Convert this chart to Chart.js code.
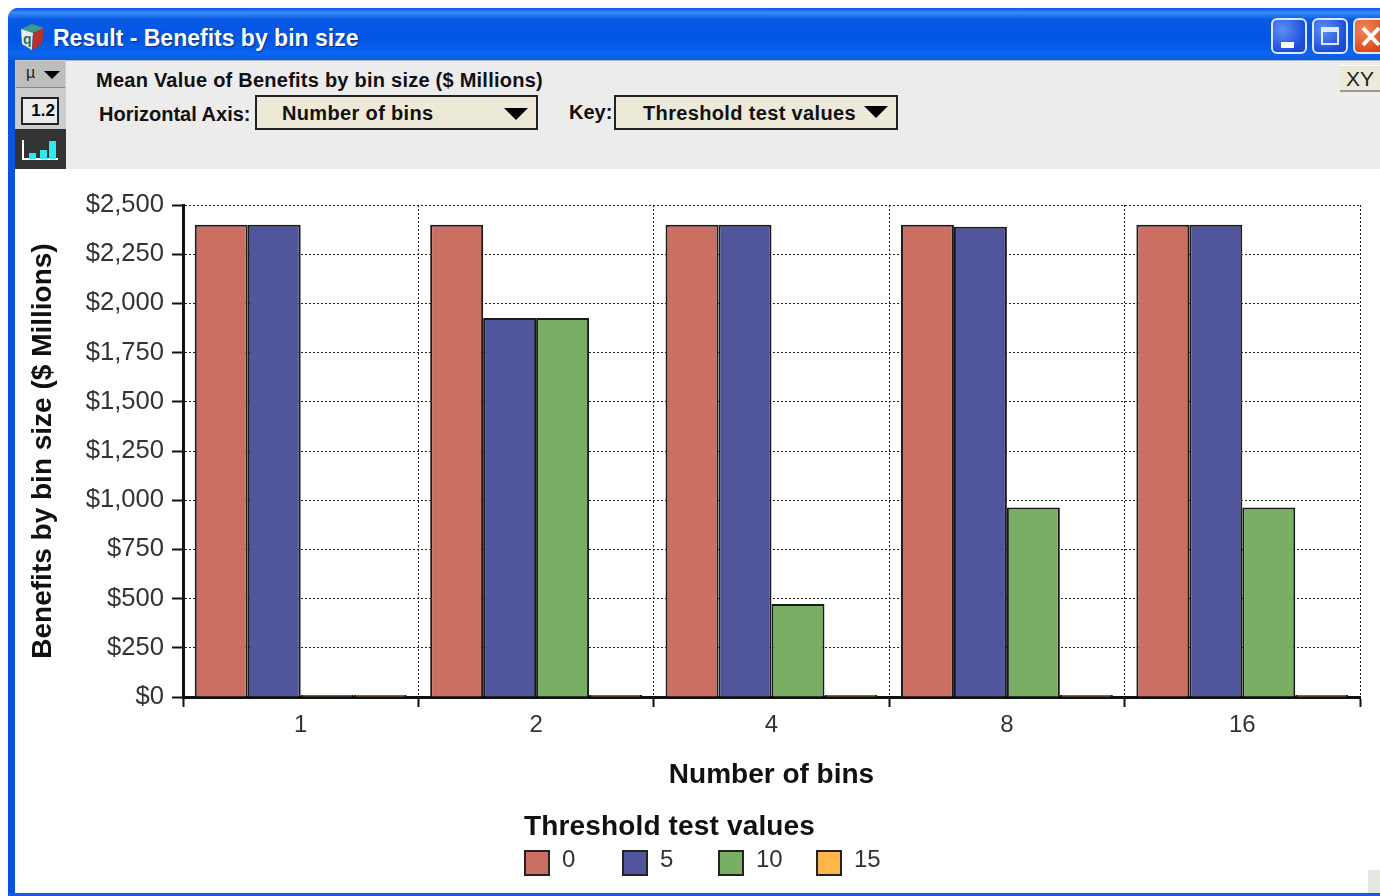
<!DOCTYPE html>
<html>
<head>
<meta charset="utf-8">
<title>Result - Benefits by bin size</title>
<script src="https://cdn.jsdelivr.net/npm/chart.js@4/dist/chart.umd.min.js"></script>
<style>
html, body { margin: 0; padding: 0; background: #fff; overflow: hidden; }
body { width: 1380px; height: 896px; position: relative; font-family: "Liberation Sans", Arial, sans-serif; }
.abs { position: absolute; white-space: nowrap; }
#frame { left: 8px; top: 8px; width: 1372px; height: 888px; background: #0a53e0; border-radius: 10px 0 0 0; }
#titlebar { left: 8px; top: 8px; width: 1372px; height: 52px; border-radius: 10px 0 0 0;
  background: linear-gradient(to bottom, #0a58e6 0%, #3a8cf8 9%, #0a5ae4 22%, #0055e2 60%, #0a66f0 88%, #0c5bd8 100%); }
#wintitle { left: 53px; top: 24px; color: #fff; font-weight: bold; font-size: 23px; line-height: 28px; text-shadow: 1px 1px 1px #0a2f90; transform-origin: 0 0; }
#panel { left: 15px; top: 60px; width: 1365px; height: 109px; background: #ececec; border-top: 1px solid #a8b8dc; box-sizing: border-box; }
#white { left: 15px; top: 169px; width: 1365px; height: 724px; background: #fff; }
.lbl { font-weight: bold; font-size: 20px; color: #111; line-height: 24px; }
.drop { background: #ece9d8; border: 2px solid #222; box-sizing: border-box; height: 35px; }
.drop span { position: absolute; top: 4px; font-weight: bold; font-size: 20px; line-height: 24px; color: #111; white-space: nowrap; letter-spacing: .35px; }
.arrow { position: absolute; width: 0; height: 0; border-left: 12px solid transparent; border-right: 12px solid transparent; border-top: 12px solid #000; }
.winbtn { top: 18px; width: 36px; height: 36px; border: 2px solid #dfe8fb; border-radius: 6px; box-sizing: border-box;
  background: radial-gradient(circle at 30% 30%, #5f8ff5, #1c4fdc 70%, #1a45c8); }
#canvasbox { position: absolute; left: 15px; top: 169px; width: 1365px; height: 727px; }
#canvasbox canvas { display: block; }
.legbox { position: absolute; top: 850px; width: 26px; height: 26px; border: 2px solid #222; box-sizing: border-box; }
.legtxt { position: absolute; top: 845px; font-size: 24px; line-height: 28px; color: #333; }
#legtitle { left: 524px; top: 809px; font-weight: bold; font-size: 28px; line-height: 34px; color: #111; letter-spacing: .15px; }
</style>
</head>
<body>
<div class="abs" id="frame"></div>
<div class="abs" id="titlebar"></div>
<svg class="abs" style="left:19px;top:23px" width="28" height="28" viewBox="0 0 28 28">
  <polygon points="2,6 13,1 25,5 14,10" fill="#3f9a8c"/>
  <polygon points="2,6 14,10 13,27 3,21" fill="#e8eef0"/>
  <polygon points="14,10 25,5 23,21 13,27" fill="#b8322a"/>
  <text x="4" y="21" font-size="14" font-weight="bold" fill="#1c6f68" font-family="Liberation Sans">q</text>
</svg>
<div class="abs" id="wintitle">Result - Benefits by bin size</div>
<div class="abs winbtn" style="left:1271px"><div style="position:absolute;left:8px;top:22px;width:13px;height:6px;background:#fff"></div></div>
<div class="abs winbtn" style="left:1312px"><div style="position:absolute;left:7px;top:7px;width:18px;height:18px;border:2px solid #dfe8fb;border-top-width:5px;box-sizing:border-box"></div></div>
<div class="abs winbtn" style="left:1353px;width:36px;background:radial-gradient(circle at 30% 30%,#ef8a5e,#dc4a1c 70%,#c83c14)">
  <svg width="30" height="32" style="position:absolute;left:2px;top:1px"><path d="M6 7 L22 24 M22 7 L6 24" stroke="#fff" stroke-width="4"/></svg>
</div>
<div class="abs" id="panel"></div>
<div class="abs" id="white"></div>

<!-- left tool strip -->
<div class="abs" style="left:15px;top:60px;width:51px;height:109px;background:#ccc"></div>
<div class="abs" style="left:16px;top:61px;width:49px;height:27px;background:#bdbdbd;border-bottom:1px solid #888;box-sizing:border-box"></div>
<div class="abs" style="left:26px;top:63px;font-size:16px;line-height:20px;color:#222">µ</div>
<div class="arrow" style="left:44px;top:71px;border-left-width:8px;border-right-width:8px;border-top-width:8px"></div>
<div class="abs" style="left:21px;top:97px;width:38px;height:28px;border:2px solid #222;box-sizing:border-box;background:#ececec;font-weight:bold;font-size:17px;line-height:24px;text-align:right;padding-right:2px">1.2</div>
<div class="abs" style="left:15px;top:129px;width:51px;height:40px;background:#333"></div>
<svg class="abs" style="left:20px;top:136px" width="40" height="28">
  <path d="M3 4 V23 H38" stroke="#fff" stroke-width="2" fill="none"/>
  <rect x="9" y="17" width="7" height="6" fill="#2ee8ee"/><rect x="20" y="14" width="7" height="9" fill="#2ee8ee"/><rect x="29" y="5" width="7" height="18" fill="#2ee8ee"/>
</svg>

<div class="abs lbl" id="panelTitle" style="left:96px;top:68px;letter-spacing:.24px">Mean Value of Benefits by bin size ($ Millions)</div>
<div class="abs lbl" style="left:99px;top:102px">Horizontal Axis:</div>
<div class="abs drop" style="left:255px;top:95px;width:283px"><span style="left:25px">Number of bins</span><div class="arrow" style="left:247px;top:11px"></div></div>
<div class="abs lbl" style="left:569px;top:100px">Key:</div>
<div class="abs drop" style="left:614px;top:95px;width:284px"><span style="left:27px">Threshold test values</span><div class="arrow" style="left:248px;top:9px"></div></div>
<div class="abs" style="left:1340px;top:65px;width:40px;height:27px;background:#ece9d8;border-top:1px solid #fff;border-bottom:2px solid #999;box-sizing:border-box;font-size:21px;line-height:25px;text-align:center;color:#222">XY</div>

<div id="canvasbox"><canvas id="chart" width="1365" height="727"></canvas></div>
<div class="abs" style="left:1368px;top:870px;width:12px;height:23px;background:#e6e6e0"></div>
<div class="abs" style="left:8px;top:893px;width:1372px;height:3px;background:#1a5ae0"></div>

<div class="abs" id="legtitle"></div>
<div id="legend"></div>

<script>
const categories = ['1', '2', '4', '8', '16'];
const seriesNames = ['0', '5', '10', '15'];
const threshold0 = [2400, 2400, 2400, 2400, 2400];
const threshold5 = [2400, 1926, 2400, 2390, 2400];
const threshold10 = [10, 1926, 473, 963, 963];
const threshold15 = [10, 10, 10, 10, 10];
const seriesColors = ['#cc6f63', '#51559b', '#7bae65', '#ffb547'];
const yTicks = [0, 250, 500, 750, 1000, 1250, 1500, 1750, 2000, 2250, 2500];
const yTitle = 'Benefits by bin size ($ Millions)';
const xTitle = 'Number of bins';
const legendTitle = 'Threshold test values';

const seriesValues = [threshold0, threshold5, threshold10, threshold15];

const ctx = document.getElementById('chart').getContext('2d');
const chart = new Chart(ctx, {
    type: 'bar',
    data: {
        labels: categories,
        datasets: seriesNames.map((name, i) => ({
            label: name,
            data: seriesValues[i],
            backgroundColor: seriesColors[i],
            borderColor: '#1a1a1a',
            borderWidth: 2,
            borderSkipped: 'bottom',
            barPercentage: 1,
            categoryPercentage: 0.9
        }))
    },
    options: {
        responsive: false,
        animation: false,
        layout: { padding: { top: 36, right: 20, left: 0, bottom: 0 } },
        plugins: {
            legend: { display: false },
            tooltip: { enabled: false }
        },
        scales: {
            x: {
                afterFit: function(axis) { axis.height = 199; },
                grid: {
                    color: '#222',
                    lineWidth: 1,
                    tickLength: 10,
                    tickColor: '#111',
                    tickBorderDash: [],
                    tickWidth: 2
                },
                border: { color: '#111', width: 3, dash: [2, 2] },
                ticks: {
                    color: '#333',
                    padding: 4,
                    maxRotation: 0,
                    font: { family: 'Liberation Sans', size: 24 }
                },
                title: {
                    display: true,
                    text: xTitle,
                    color: '#111',
                    font: { family: 'Liberation Sans', size: 28, weight: 'bold' },
                    padding: { top: 0, bottom: 104 }
                }
            },
            y: {
                min: 0,
                max: 2500,
                afterFit: function(axis) { axis.width = 168; },
                afterBuildTicks: function(axis) { axis.ticks = yTicks.map(v => ({ value: v })); },
                grid: {
                    color: '#222',
                    lineWidth: 1,
                    tickLength: 11,
                    tickColor: '#111',
                    tickBorderDash: [],
                    tickWidth: 2
                },
                border: { color: '#111', width: 3, dash: [2, 2] },
                ticks: {
                    color: '#333',
                    padding: 8,
                    callback: function(value) { return '$' + value.toLocaleString('en-US'); },
                    font: { family: 'Liberation Sans', size: 25.6 }
                },
                title: {
                    display: true,
                    text: yTitle,
                    color: '#111',
                    font: { family: 'Liberation Sans', size: 28, weight: 'bold' },
                    padding: { top: 11, bottom: 0 }
                }
            }
        }
    }
});

// legend sits in the page, same spacing as the original window
document.getElementById('legtitle').textContent = legendTitle;
const legendEl = document.getElementById('legend');
const legendX = [524, 622, 718, 816];
seriesNames.forEach((name, i) => {
    const box = document.createElement('div');
    box.className = 'legbox';
    box.style.left = legendX[i] + 'px';
    box.style.background = seriesColors[i];
    legendEl.appendChild(box);
    const txt = document.createElement('div');
    txt.className = 'legtxt';
    txt.style.left = (legendX[i] + 38) + 'px';
    txt.textContent = name;
    legendEl.appendChild(txt);
});
</script>
</body>
</html>
